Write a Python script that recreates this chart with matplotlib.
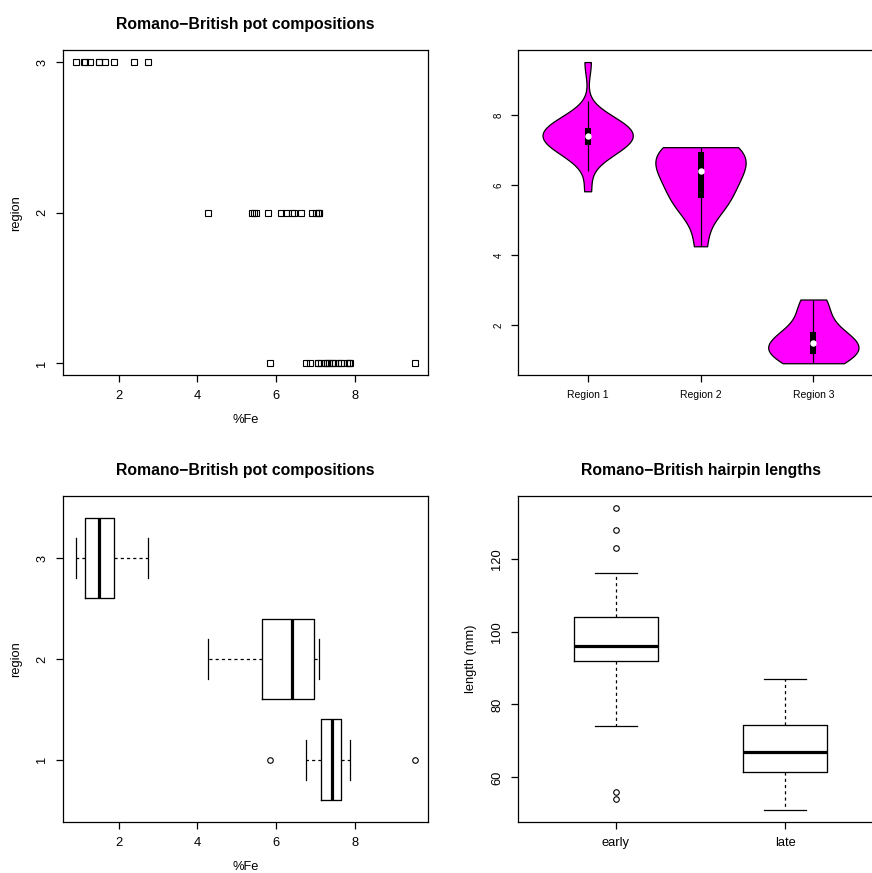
import numpy as np
import matplotlib.pyplot as plt

plt.rcParams['font.family'] = ['Liberation Sans', 'DejaVu Sans']

# Romano-British pottery, %Fe by region
fe_region1 = [9.52, 7.33, 7.64, 7.29, 7.24, 7.45, 7.05, 7.42, 7.15, 6.87, 5.83,
              6.76, 7.07, 7.79, 7.86, 7.65, 7.85, 7.87, 7.58, 7.50, 7.28]
fe_region2 = [7.00, 7.08, 7.09, 6.40, 7.06, 6.26, 4.26, 5.78, 5.49, 6.92, 6.13,
              6.64, 6.45, 5.39, 5.44]
fe_region3 = [1.28, 2.39, 1.50, 1.88, 1.51, 1.12, 1.14, 0.92, 2.74, 1.64]
regions = [1, 2, 3]
region_names = ['Region 1', 'Region 2', 'Region 3']

# Romano-British hairpin lengths (mm)
early = [54, 56, 74, 80, 84, 86, 88, 90, 92, 92, 93, 94, 94, 95, 95, 96, 96, 96,
         97, 98, 99, 100, 101, 102, 103, 104, 104, 106, 108, 110, 112, 116,
         123, 128, 134]
late = [51, 53, 55, 57, 58, 59, 60, 61, 62, 63, 64, 65, 66, 66, 67, 67, 68, 69,
        70, 71, 72, 73, 74, 75, 76, 77, 79, 81, 83, 85, 87]
pin_groups = ['early', 'late']

fe_groups = [fe_region1, fe_region2, fe_region3]
title_pot = 'Romano\u2212British pot compositions'

W, H = 872, 873
TICK = 9.3


def rect(x0, y0, x1, y1):
    return [x0 / W, 1 - y1 / H, (x1 - x0) / W, (y1 - y0) / H]


def fivenum(x):
    x = np.sort(np.asarray(x, float))
    n = len(x)
    n4 = np.floor((n + 3) / 2) / 2
    d = np.array([1, n4, (n + 1) / 2, n + 1 - n4, n]) - 1
    return 0.5 * (x[np.floor(d).astype(int)] + x[np.ceil(d).astype(int)])


def r_stats(x):
    # boxplot stats the way R computes them (hinges)
    x = np.asarray(x, float)
    lo, q1, med, q3, hi = fivenum(x)
    iqr = q3 - q1
    inside = x[(x >= q1 - 1.5 * iqr) & (x <= q3 + 1.5 * iqr)]
    out = x[(x < inside.min()) | (x > inside.max())]
    return dict(med=med, q1=q1, q3=q3, whislo=inside.min(),
                whishi=inside.max(), fliers=out)


def style(ax, ysize=TICK, xsize=TICK):
    for s in ax.spines.values():
        s.set_linewidth(0.9)
        s.set_color('black')
    ax.tick_params(direction='out', length=4.8, width=0.9, pad=5.5)
    ax.tick_params(axis='x', labelsize=xsize)
    ax.tick_params(axis='y', labelsize=ysize, labelrotation=90)
    for lab in ax.get_yticklabels():
        lab.set_va('center')


def labels(ax, xl=None, yl=None):
    if xl:
        ax.set_xlabel(xl, fontsize=TICK, va='center')
        ax.xaxis.set_label_coords(0.5, -0.136)
    if yl:
        ax.set_ylabel(yl, fontsize=TICK, va='center')
        ax.yaxis.set_label_coords(-0.128, 0.5)


def title(ax, txt):
    ax.set_title(txt, fontsize=11.3, fontweight='bold', y=1.078, va='center', pad=0)


bx_kw = dict(boxprops=dict(color='black', lw=0.95),
             whiskerprops=dict(color='black', lw=0.9, linestyle=(0, (2.5, 2.5))),
             capprops=dict(color='black', lw=0.9),
             medianprops=dict(color='black', lw=2.3, solid_capstyle='butt'),
             flierprops=dict(marker='o', markerfacecolor='none',
                             markeredgecolor='black', markersize=4,
                             markeredgewidth=0.8),
             manage_ticks=False)

fig = plt.figure(figsize=(W / 100, H / 100), dpi=100)

# strip chart
ax1 = fig.add_axes(rect(62.7, 50, 428.3, 375.3))
for r, vals in zip(regions, fe_groups):
    ax1.plot(vals, [r] * len(vals), 's', mfc='none', mec='black', ms=4.8, mew=0.8)
ax1.set_xlim(0.576, 9.864)
ax1.set_ylim(0.92, 3.08)
ax1.set_xticks([2, 4, 6, 8])
ax1.set_yticks(regions)
style(ax1)
labels(ax1, '%Fe', 'region')
title(ax1, title_pot)

# violin plot
ax2 = fig.add_axes(rect(517.7, 50, 883.3, 375.3))
parts = ax2.violinplot(fe_groups, positions=regions, widths=0.8, showextrema=False,
                       points=300, bw_method=lambda k: (4 / (3 * k.num_dp)) ** 0.2)
for body in parts['bodies']:
    body.set_facecolor('#ff00ff')
    body.set_edgecolor('black')
    body.set_alpha(1)
    body.set_linewidth(0.9)
for pos, vals in zip(regions, fe_groups):
    q1, med, q3 = np.percentile(vals, [25, 50, 75])
    iqr = q3 - q1
    lo = max(min(vals), q1 - 1.5 * iqr)
    hi = min(max(vals), q3 + 1.5 * iqr)
    ax2.vlines(pos, lo, hi, color='black', lw=0.9)
    ax2.vlines(pos, q1, q3, color='black', lw=4.3)
    ax2.plot(pos, med, 'o', color='white', ms=3.6)
ax2.set_xlim(0.38, 3.62)
ax2.set_ylim(0.576, 9.864)
ax2.set_xticks(regions, region_names)
ax2.set_yticks([2, 4, 6, 8])
style(ax2, ysize=7, xsize=7.5)

# horizontal box plot
ax3 = fig.add_axes(rect(62.7, 495.7, 428.3, 822.2))
ax3.bxp([r_stats(v) for v in fe_groups], positions=regions, widths=0.8,
        capwidths=0.4, orientation='horizontal', **bx_kw)
ax3.set_xlim(0.576, 9.864)
ax3.set_ylim(0.38, 3.62)
ax3.set_xticks([2, 4, 6, 8])
ax3.set_yticks(regions)
style(ax3)
labels(ax3, '%Fe', 'region')
title(ax3, title_pot)

# hairpin box plot
ax4 = fig.add_axes(rect(517.7, 495.7, 883.3, 822.2))
ax4.bxp([r_stats(early), r_stats(late)], positions=[1, 2], widths=0.5,
        capwidths=0.25, **bx_kw)
ax4.set_xlim(0.42, 2.58)
ax4.set_ylim(47.68, 137.32)
ax4.set_xticks([1, 2], pin_groups)
ax4.set_yticks([60, 80, 100, 120])
style(ax4)
labels(ax4, None, 'length (mm)')
title(ax4, 'Romano\u2212British hairpin lengths')

fig.savefig('out.png', dpi=100)
